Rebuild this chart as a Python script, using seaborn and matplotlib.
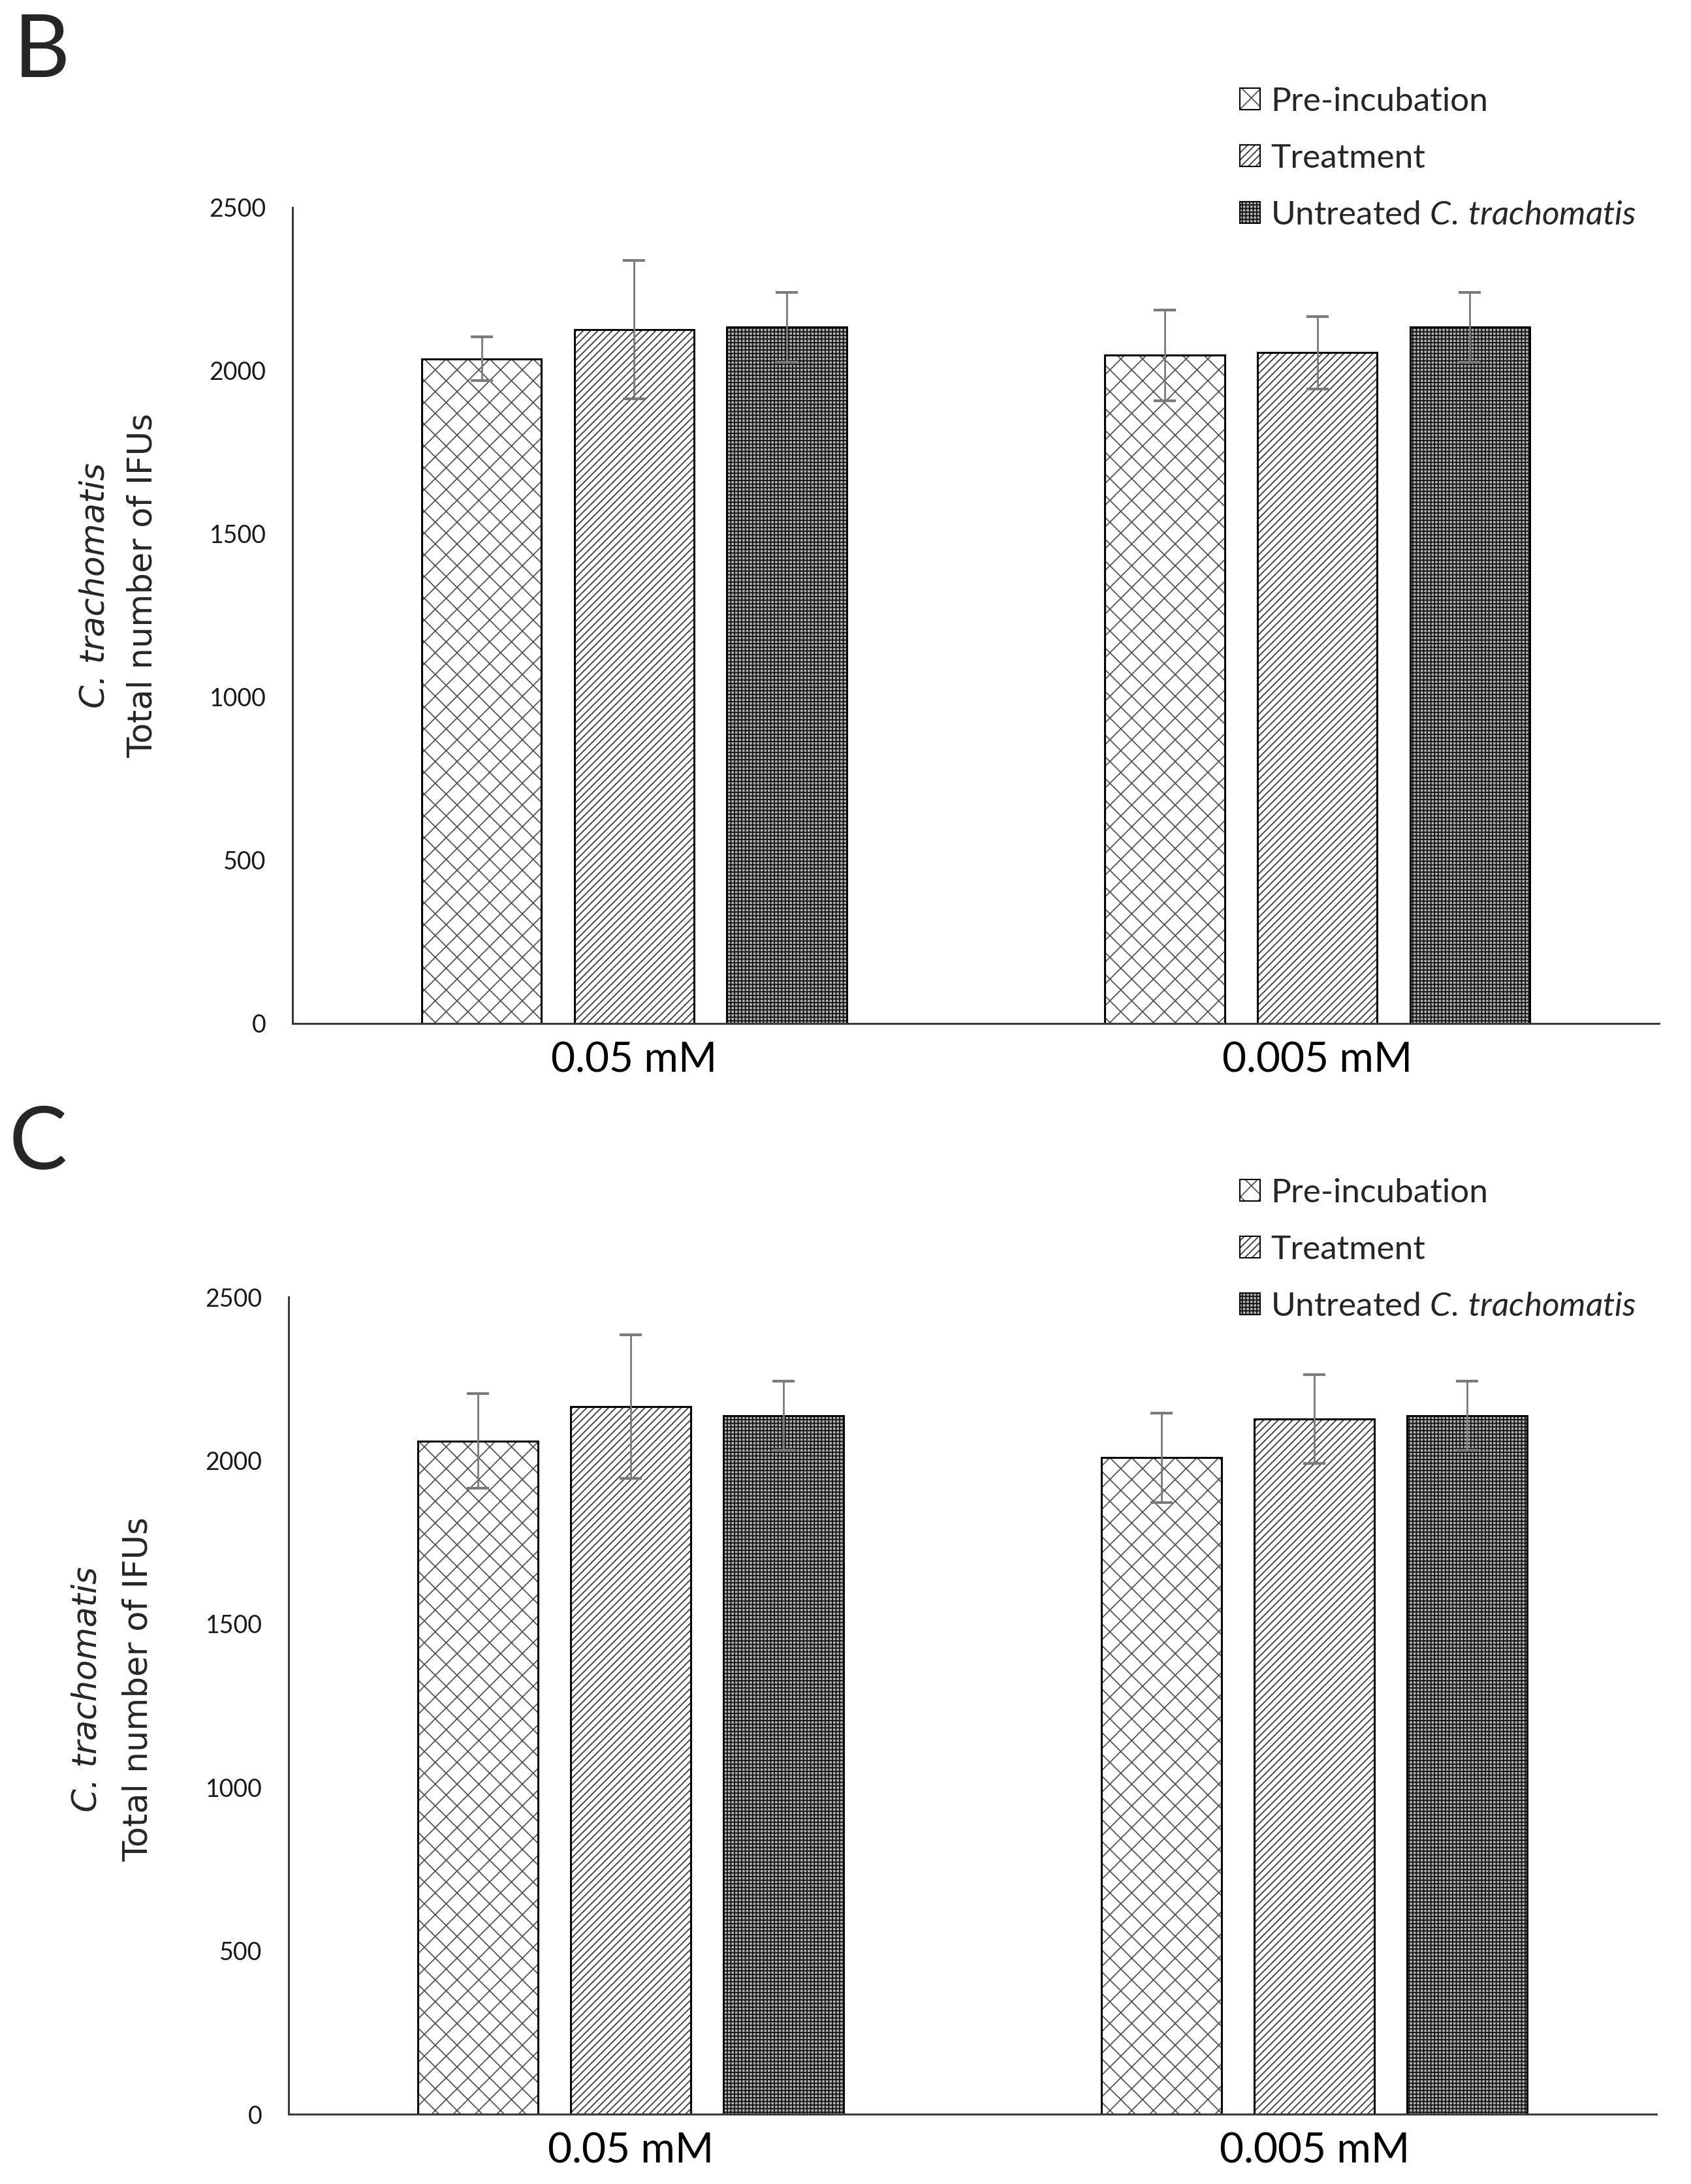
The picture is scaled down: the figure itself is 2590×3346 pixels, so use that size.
import matplotlib
matplotlib.use('Agg')
import matplotlib.pyplot as plt
from matplotlib.patches import Patch
from matplotlib.colors import to_rgba
import seaborn as sns
import pandas as pd

concs = ['0.05 mM', '0.005 mM']
groups = ['Pre-incubation', 'Treatment', 'Untreated C. trachomatis']

# panel B (means and error bars)
b_pre = [2037, 2048]
b_treat = [2126, 2056]
b_untr = [2134, 2134]
b_pre_sd = [67, 139]
b_treat_sd = [212, 111]
b_untr_sd = [107, 107]

# panel C
c_pre = [2059, 2008]
c_treat = [2164, 2127]
c_untr = [2137, 2137]
c_pre_sd = [145, 137]
c_treat_sd = [220, 136]
c_untr_sd = [106, 106]

yticks = [0, 500, 1000, 1500, 2000, 2500]

sns.set_theme(style='white')
plt.rcParams['font.family'] = ['Lato', 'DejaVu Sans']
plt.rcParams['hatch.linewidth'] = 1.3
plt.rcParams['mathtext.fontset'] = 'custom'
plt.rcParams['mathtext.it'] = 'Lato:italic'
plt.rcParams['mathtext.rm'] = 'Lato'

hatches = ['x', '///', '+++']
faces = ['white', 'white', '#b0b0b0']
hatch_cols = ['#555555', '#3a3a3a', '#111111']


def make_df(pre, treat, untr):
    rows = []
    for g, vals in zip(groups, [pre, treat, untr]):
        for c, v in zip(concs, vals):
            rows.append({'conc': c, 'group': g, 'ifu': v})
    return pd.DataFrame(rows)


def style_patch(p, h, fc, hc, lw):
    p.set_facecolor(fc)
    p.set_edgecolor('black')
    p.set_hatch(h)
    p.set_linewidth(lw)
    # hatch lines a bit grey, outline black
    p._hatch_color = to_rgba(hc)


def draw_panel(ax, df, sds):
    sns.barplot(data=df, x='conc', y='ifu', hue='group', order=concs,
                hue_order=groups, errorbar=None, width=0.67, gap=0.215,
                ax=ax, legend=False)
    for cont, h, fc, hc, sd in zip(ax.containers, hatches, faces, hatch_cols, sds):
        xs, ys = [], []
        for bar in cont:
            style_patch(bar, h, fc, hc, 2.2)
            xs.append(bar.get_x() + bar.get_width() / 2)
            ys.append(bar.get_height())
        ax.errorbar(xs, ys, yerr=sd, fmt='none', ecolor='#7a7a7a',
                    elinewidth=2.0, capsize=12, capthick=3, zorder=5)
    ax.set_xlim(-0.5, 1.5)
    ax.set_ylim(0, 2500)
    ax.set_yticks(yticks)
    ax.set_yticklabels([str(t) for t in yticks], fontsize=27, color='#1a1a1a')
    ax.tick_params(axis='y', length=0, pad=29)
    ax.tick_params(axis='x', length=0, pad=20, labelsize=46, labelcolor='black')
    ax.set_xlabel('')
    ax.set_ylabel('')
    sns.despine(ax=ax)
    for s in ['left', 'bottom']:
        ax.spines[s].set_color('#3a3a3a')
        ax.spines[s].set_linewidth(2.2)


fig = plt.figure(figsize=(25.9, 33.46), dpi=100)
W, H = 2590, 3346
axB = fig.add_axes([448 / W, 1 - 1568 / H, (2541 - 448) / W, 1250 / H])
axC = fig.add_axes([442 / W, 1 - 3239 / H, (2537 - 442) / W, 1252 / H])

draw_panel(axB, make_df(b_pre, b_treat, b_untr), [b_pre_sd, b_treat_sd, b_untr_sd])
draw_panel(axC, make_df(c_pre, c_treat, c_untr), [c_pre_sd, c_treat_sd, c_untr_sd])

labels = ['Pre-incubation', 'Treatment', r'Untreated $\mathit{C.\,trachomatis}$']

for ytop, letter, lx, ly, lab_x1, lab_x2, lab_y in [
        (112 / H, 'B', 21, 20, 145, 219, 897),
        (1784 / H, 'C', 14, 1693, 133, 212, 2588)]:
    handles = []
    for h, fc, hc in zip(hatches, faces, hatch_cols):
        p = Patch()
        style_patch(p, h, fc, hc, 1.5)
        handles.append(p)
    fig.legend(handles, labels, loc='upper left', bbox_to_anchor=(1878 / W, 1 - ytop),
               frameon=False, fontsize=37, handlelength=0.62, handleheight=0.62,
               handletextpad=0.3, labelspacing=0.8, borderaxespad=0)
    fig.text(lx / W, 1 - ly / H, letter, fontsize=96, va='top', ha='left')
    fig.text(lab_x1 / W, 1 - lab_y / H, 'C. trachomatis', rotation=90, ha='center',
             va='center', fontsize=37, style='italic', family='DejaVu Sans')
    fig.text(lab_x2 / W, 1 - lab_y / H, 'Total number of IFUs', rotation=90,
             ha='center', va='center', fontsize=37, family='DejaVu Sans')

fig.savefig('out.png', dpi=100, facecolor='white')
